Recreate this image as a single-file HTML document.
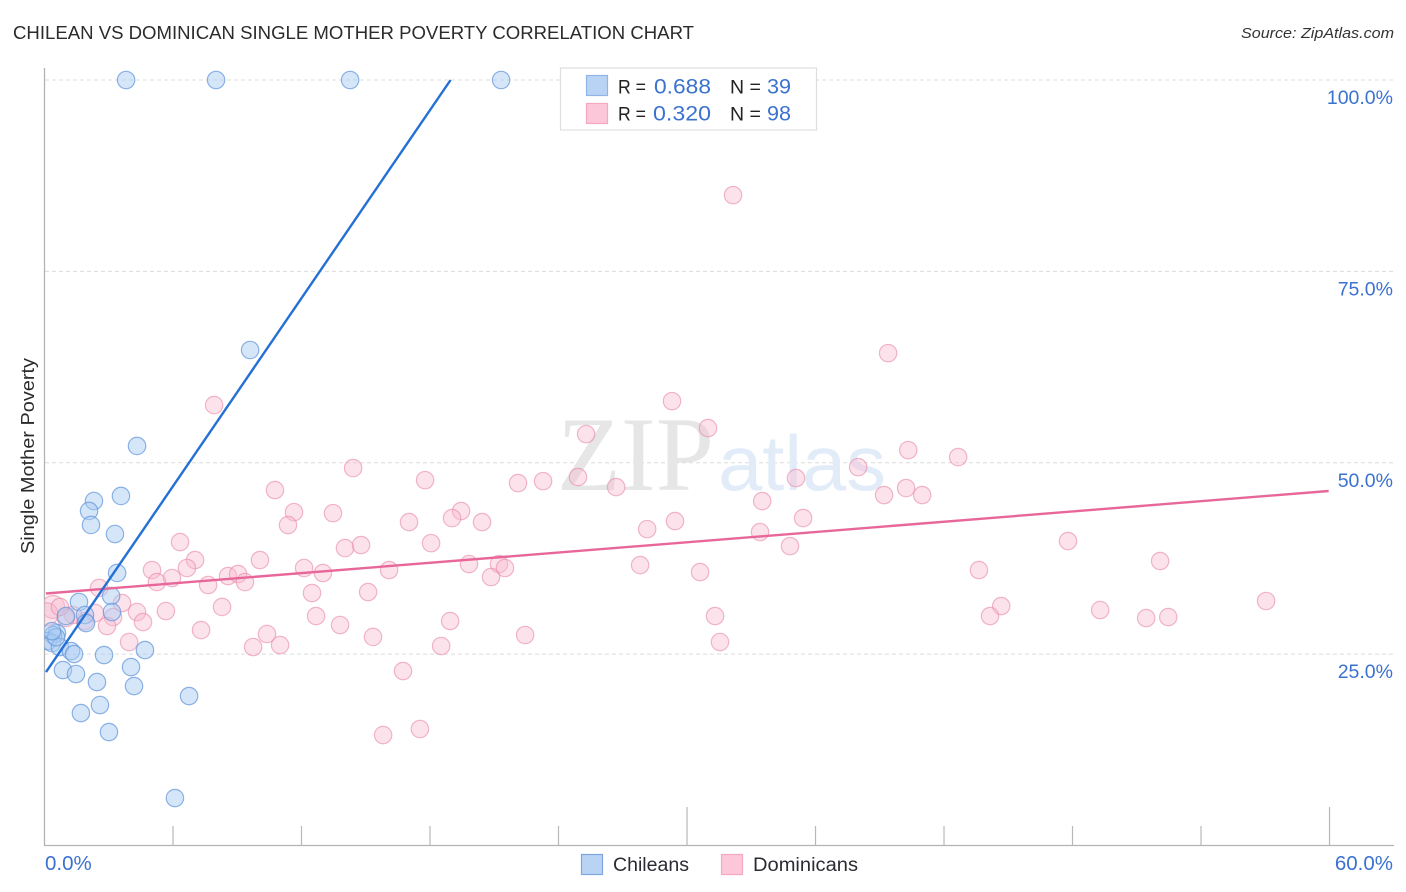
<!DOCTYPE html>
<html lang="en">
<head>
<meta charset="utf-8">
<title>Chilean vs Dominican Single Mother Poverty Correlation Chart</title>
<style>
html,body{margin:0;padding:0;background:#fff;width:1406px;height:892px;overflow:hidden}
svg{display:block}
text{font-family:"Liberation Sans",sans-serif}
</style>
</head>
<body>
<svg id="chart" xmlns="http://www.w3.org/2000/svg" width="1406" height="892" viewBox="0 0 1406 892">
  <defs>
    <clipPath id="plot-clip"><rect x="44.5" y="60" width="1350" height="785"/></clipPath>
  </defs>
  <rect x="0" y="0" width="1406" height="892" fill="#ffffff"/>
  <text x="13" y="39" font-size="18.5" fill="#2b2b2b" textLength="681" lengthAdjust="spacingAndGlyphs">CHILEAN VS DOMINICAN SINGLE MOTHER POVERTY CORRELATION CHART</text>
  <text x="1394" y="38" font-size="15" font-style="italic" fill="#333" text-anchor="end" textLength="153" lengthAdjust="spacingAndGlyphs">Source: ZipAtlas.com</text>
  <g id="grid"></g>
  <g>
    <text x="557" y="490" font-size="106" fill="#e6e6e6" textLength="157" lengthAdjust="spacingAndGlyphs" style="font-family:'Liberation Serif',serif">ZIP</text>
    <text x="718" y="490" font-size="78" fill="#e2ecf9" textLength="168" lengthAdjust="spacingAndGlyphs">atlas</text>
  </g>
  <g id="axes">
    <line x1="44.5" y1="68" x2="44.5" y2="845.5" stroke="#b3b3b3" stroke-width="1.3"/>
    <line x1="44" y1="845.5" x2="1394" y2="845.5" stroke="#b3b3b3" stroke-width="1.3"/>
  </g>
  <g id="ticks"></g>
  <g id="y-labels"></g>
  <g id="x-labels"></g>
  <text transform="translate(34,456) rotate(-90)" font-size="18" fill="#2b2b2b" text-anchor="middle" textLength="196" lengthAdjust="spacingAndGlyphs">Single Mother Poverty</text>
  <g id="points-dominican" clip-path="url(#plot-clip)"></g>
  <g id="points-chilean" clip-path="url(#plot-clip)"></g>
  <g id="trends"></g>
  <g>
    <rect x="560.5" y="68" width="256" height="62" fill="#ffffff" stroke="#dedede" stroke-width="1.2"/>
    <rect x="586.5" y="75.5" width="21" height="20" fill="#b9d3f5" stroke="#8fb4e6" stroke-width="1.2"/>
    <rect x="586.5" y="103.5" width="21" height="20" fill="#fcc8d9" stroke="#f3a8c0" stroke-width="1.2"/>
    <text x="618" y="93.5" font-size="19.5" fill="#222" textLength="28" lengthAdjust="spacingAndGlyphs">R =</text>
    <text x="654" y="93.5" font-size="21" fill="#3b72d0" textLength="57" lengthAdjust="spacingAndGlyphs">0.688</text>
    <text x="730" y="93.5" font-size="19.5" fill="#222">N =</text>
    <text x="767" y="93.5" font-size="21" fill="#3b72d0" textLength="24" lengthAdjust="spacingAndGlyphs">39</text>
    <text x="618" y="120.5" font-size="19.5" fill="#222" textLength="28" lengthAdjust="spacingAndGlyphs">R =</text>
    <text x="653" y="120.5" font-size="21" fill="#3b72d0" textLength="58" lengthAdjust="spacingAndGlyphs">0.320</text>
    <text x="730" y="120.5" font-size="19.5" fill="#222">N =</text>
    <text x="767" y="120.5" font-size="21" fill="#3b72d0" textLength="24" lengthAdjust="spacingAndGlyphs">98</text>
  </g>
  <g>
    <g>
      <rect x="581.5" y="854.5" width="21" height="20" fill="#b9d3f5" stroke="#7ea6de" stroke-width="1.2"/>
      <text x="613" y="871" font-size="19" fill="#2b2b33" textLength="76" lengthAdjust="spacingAndGlyphs">Chileans</text>
    </g>
    <g>
      <rect x="721.5" y="854.5" width="21" height="20" fill="#fcc8d9" stroke="#f3a8c0" stroke-width="1.2"/>
      <text x="753" y="871" font-size="19" fill="#2b2b33" textLength="105" lengthAdjust="spacingAndGlyphs">Dominicans</text>
    </g>
  </g>
</svg>
<script>
const yTickValues = [25, 50, 75, 100];
const yTickLabels = ["25.0%", "50.0%", "75.0%", "100.0%"];
const xTickValues = [6, 12, 18, 24, 30, 36, 42, 48, 54, 60];
const xMajorTicks = [30, 60];
const xEndLabels = ["0.0%", "60.0%"];

const chileanX = [3.81,8.01,14.27,21.32,9.60,4.32,3.57,2.31,2.08,2.17,3.29,3.39,3.11,1.61,3.15,1.89,1.94,1.00,0.58,0.40,0.16,0.35,0.72,1.24,1.38,2.78,4.69,4.04,0.86,1.47,2.45,4.18,6.75,2.59,1.70,3.01,6.09,0.54,0.35];
const chileanY = [100,100,100,100,64.73,52.19,45.66,45.00,43.70,41.87,40.69,35.60,32.59,31.81,30.50,30.11,29.06,29.97,27.75,27.49,26.70,26.44,25.92,25.40,25.01,24.88,25.53,23.31,22.92,22.40,21.35,20.83,19.52,18.35,17.30,14.82,6.20,27.20,28.00];

const dominicanX = [32.15,39.39,29.30,7.92,30.98,25.29,40.33,42.66,14.41,37.99,24.91,17.77,26.69,23.28,22.11,35.09,10.76,40.23,39.20,40.98,33.51,19.45,11.65,13.47,19.03,17.02,11.37,20.43,29.44,35.42,28.14,33.41,34.81,18.05,14.03,14.78,6.33,47.79,7.03,10.06,52.09,19.82,27.81,21.22,21.50,5.02,6.65,12.12,16.09,30.61,43.63,13.00,20.85,5.95,5.25,8.57,9.04,9.36,7.64,2.55,15.11,12.49,57.04,44.67,3.62,8.29,4.32,5.67,49.29,31.31,12.68,44.15,51.44,52.47,18.94,13.80,4.60,3.20,7.31,2.92,10.39,15.34,22.44,3.95,18.52,9.74,11.00,31.54,16.74,17.53,15.81,2.36,1.89,1.33,1.00,0.40,0.10,0.72];
const dominicanY = [84.96,64.32,58.05,57.53,54.53,53.74,51.65,50.74,49.30,49.43,48.13,47.73,46.82,47.60,47.34,48.00,46.43,46.69,45.78,45.78,44.99,43.69,43.55,43.42,42.77,42.25,41.86,42.25,42.38,42.77,41.33,40.94,39.11,39.50,38.85,39.25,39.64,39.77,37.29,37.29,37.16,36.77,36.63,36.77,36.25,35.98,36.25,36.25,35.98,35.72,35.98,35.59,35.07,34.94,34.41,35.20,35.46,34.41,34.03,33.64,33.11,32.98,31.94,31.28,31.67,31.16,30.50,30.63,30.76,29.97,29.97,29.97,29.71,29.84,29.32,28.80,29.19,29.84,28.14,28.67,27.63,27.24,27.50,26.58,26.06,25.93,26.19,26.58,22.79,15.22,14.43,30.37,29.32,30.11,29.71,31.16,30.20,31.16];

const chileanTrendX = [0.07, 18.96];
const chileanTrendY = [22.66, 100];
const dominicanTrendX = [0.07, 59.96];
const dominicanTrendY = [32.92, 46.31];

const SVG_NS = "http://www.w3.org/2000/svg";
const xScale = v => 44.5 + v * 21.417;
const yScale = v => 845.5 - v * 7.655;

function make(tag, parentId, attrs) {
  const el = document.createElementNS(SVG_NS, tag);
  for (const k in attrs) el.setAttribute(k, attrs[k]);
  document.getElementById(parentId).appendChild(el);
  return el;
}

yTickValues.forEach((v, i) => {
  const grid = make("line", "grid", {x1: 45, x2: 1394, y1: yScale(v), y2: yScale(v), stroke: "#dcdcdc", "stroke-width": 1, "stroke-dasharray": "4 3"});
  
  
  const label = make("text", "y-labels", {x: 1393, y: yScale(v) + 24, "font-size": 19.5, fill: "#3b72d0", "text-anchor": "end"});
  label.textContent = yTickLabels[i];
  
  
});

xTickValues.forEach(v => {
  const major = xMajorTicks.includes(v);
  const tick = make("line", "ticks", {x1: xScale(v), x2: xScale(v), y1: 845.5, y2: major ? 807 : 826, stroke: "#b8b8b8", "stroke-width": 1.2});
  
  
});

const xLabelStart = make("text", "x-labels", {x: 45, y: 870, "font-size": 20.5, fill: "#3b72d0"});
xLabelStart.textContent = xEndLabels[0];


const xLabelEnd = make("text", "x-labels", {x: 1393, y: 870, "font-size": 20.5, fill: "#3b72d0", "text-anchor": "end"});
xLabelEnd.textContent = xEndLabels[1];



dominicanX.forEach((v, i) => {
  const r = v < 0.5 ? 11.5 : 8.7;
  const dot = make("circle", "points-dominican", {cx: xScale(v), cy: yScale(dominicanY[i]), r: r, fill: "#f9b9cf", "fill-opacity": 0.42, stroke: "#e889a9", "stroke-opacity": 0.6, "stroke-width": 1.2});
  
  
});

chileanX.forEach((v, i) => {
  const dot = make("circle", "points-chilean", {cx: xScale(v), cy: yScale(chileanY[i]), r: 8.7, fill: "#a9caf2", "fill-opacity": 0.48, stroke: "#5f94dc", "stroke-opacity": 0.7, "stroke-width": 1.2});
  
  
});

const dominicanLine = make("line", "trends", {x1: xScale(dominicanTrendX[0]), y1: yScale(dominicanTrendY[0]), x2: xScale(dominicanTrendX[1]), y2: yScale(dominicanTrendY[1]), stroke: "#e8679a", "stroke-width": 2.4});


const chileanLine = make("line", "trends", {x1: xScale(chileanTrendX[0]), y1: yScale(chileanTrendY[0]), x2: xScale(chileanTrendX[1]), y2: yScale(chileanTrendY[1]), stroke: "#2470d4", "stroke-width": 2.4});


</script>
</body>
</html>
